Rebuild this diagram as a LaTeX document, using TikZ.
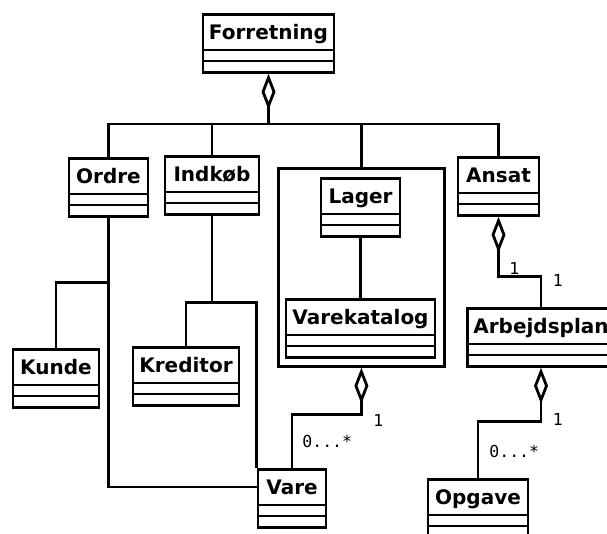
\documentclass[tikz,border=0pt]{standalone}
\usepackage{fontspec}
\setmainfont{DejaVu Sans}
\newfontfamily\multfont{DejaVu Sans Mono}
\usetikzlibrary{arrows.meta}

\begin{document}
\begin{tikzpicture}[x=1pt,y=-1pt,line width=2.8pt,
	klasse/.style={draw,anchor=north,minimum width=#1,inner xsep=6pt,inner ysep=5.5pt,
		text height=19.5pt,text depth=27.5pt,font=\fontsize{20}{20}\selectfont\bfseries,
		append after command={([yshift=-37pt]\tikzlastnode.north west) edge[draw] ([yshift=-37pt]\tikzlastnode.north east)
			([yshift=-48pt]\tikzlastnode.north west) edge[draw] ([yshift=-48pt]\tikzlastnode.north east)}},
	aggr/.style={{Diamond[open,length=36pt,width=14pt]}-},
	mult/.style={font=\multfont\fontsize{16.5}{16.5}\selectfont,inner sep=0pt,anchor=base west}]
	\useasboundingbox (0,0) rectangle (607,533);

	% klasser
	\node[klasse=131] (forretning) at (268.5,13) {Forretning};
	\node[klasse=79] (ordre) at (108.5,157) {Ordre};
	\node[klasse=94] (indkob) at (212,155) {Indkøb};
	\node[klasse=86] (kunde) at (56,348) {Kunde};
	\node[klasse=106] (kreditor) at (186,346) {Kreditor};
	\node[draw,minimum width=166pt,minimum height=198pt,anchor=north west] (lagerpkg) at (277,167) {};
	\node[klasse=79] (lager) at (360.5,177) {Lager};
	\node[klasse=149] (varekatalog) at (360.5,298) {Varekatalog};
	\node[klasse=81] (ansat) at (498.5,156) {Ansat};
	\node[klasse=146] (arbejdsplan) at (541,307) {Arbejdsplan};
	\node[klasse=68] (vare) at (292,468) {Vare};
	\node[klasse=100] (opgave) at (478,478) {Opgave};

	% forbindelser
	\coordinate (bus) at (268.5,124);
	\draw[aggr] (forretning.south) -- (bus);
	\draw (ordre.north) |- (bus) -| (ansat.north);
	\draw (indkob.north) -- (indkob.north |- bus);
	\draw (lagerpkg.north) -- (lagerpkg.north |- bus);
	\draw (ordre.south) -- ++(0,65) -| (kunde.north);
	\draw (ordre.south) |- ([yshift=-19pt]vare.north west);
	\draw (indkob.south) -- ++(0,87) coordinate (kb);
	\draw (kreditor.north) |- (kb) -| (vare.north west);
	\draw (lager.south) -- (varekatalog.north);
	\draw[aggr] (lagerpkg.south) -- ++(0,47) node[mult,xshift=10.5pt,yshift=-12pt] {1}
		-| (vare.north) node[mult,xshift=9pt,yshift=21pt] {0...*};
	\draw[aggr] (ansat.south) -- ++(0,60) node[mult,xshift=9.5pt,yshift=2pt] {1}
		-| (arbejdsplan.north) node[mult,pos=0.5,xshift=10.5pt,yshift=-10pt] {1};
	\draw[aggr] (arbejdsplan.south) -- ++(0,54) node[mult,xshift=10.5pt,yshift=-4pt] {1}
		-| (opgave.north) node[mult,xshift=10pt,yshift=21pt] {0...*};
\end{tikzpicture}
\end{document}
